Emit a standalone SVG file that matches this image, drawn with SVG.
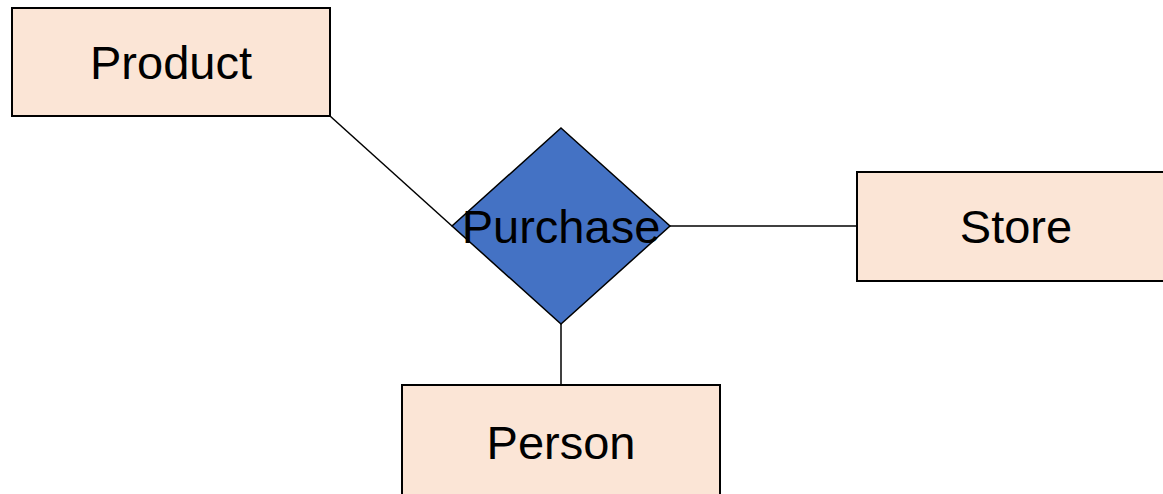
<svg xmlns="http://www.w3.org/2000/svg" width="1163" height="494" viewBox="0 0 1163 494">
  <style>
    .entity { fill: #FBE5D6; stroke: #000; stroke-width: 2; }
    .relation { fill: #4472C4; stroke: #000; stroke-width: 1.5; }
    .link { stroke: #000; stroke-width: 1.5; fill: none; }
    .label { font-family: "Liberation Sans", Arial, sans-serif; font-size: 47px; fill: #000; text-anchor: middle; }
  </style>
  <rect width="1163" height="494" fill="#fff"/>

  <!-- relationship links -->
  <g id="connectors">
    <line class="link" x1="330" y1="116" x2="452" y2="226"/>
    <line class="link" x1="670" y1="226" x2="857" y2="226"/>
    <line class="link" x1="561" y1="324" x2="561" y2="385"/>
  </g>

  <g id="product">
    <rect class="entity" x="12" y="8" width="318" height="108"/>
    <text class="label" x="171" y="79">Product</text>
  </g>

  <g id="store">
    <rect class="entity" x="857" y="172" width="318" height="109"/>
    <text class="label" x="1016" y="243">Store</text>
  </g>

  <g id="person">
    <rect class="entity" x="402" y="385" width="318" height="120"/>
    <text class="label" x="561" y="459">Person</text>
  </g>

  <g id="purchase">
    <polygon class="relation" points="561,128 670,226 561,324 452,226"/>
    <text class="label" x="561" y="243">Purchase</text>
  </g>
</svg>
